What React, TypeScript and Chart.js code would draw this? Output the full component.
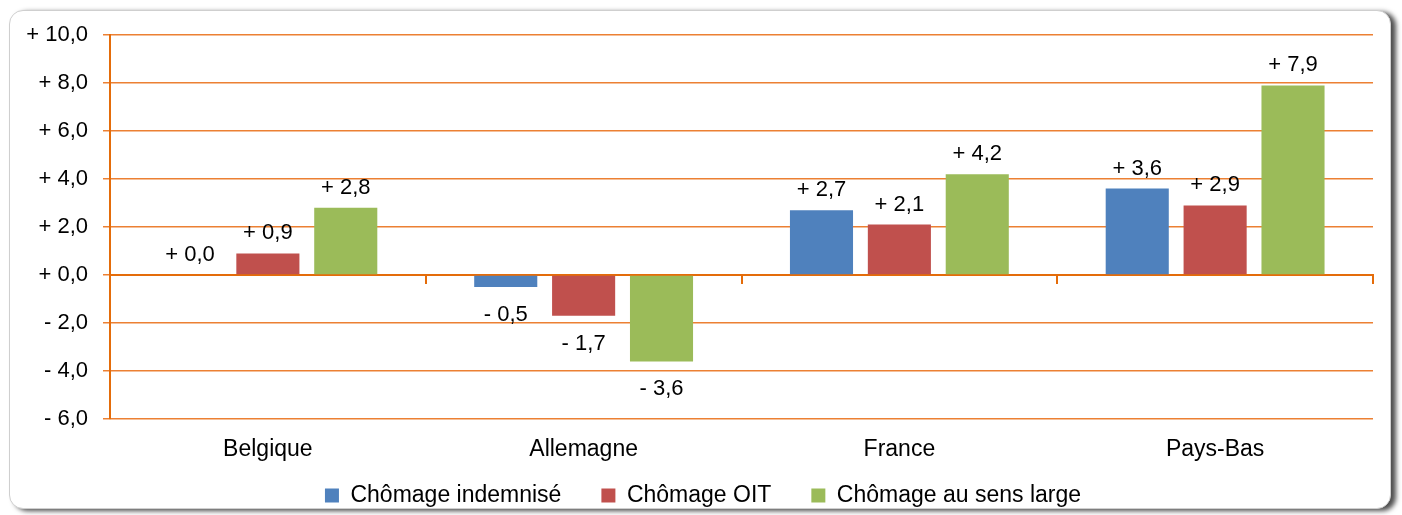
import React, { useEffect, useRef } from "react";
import { Chart, registerables } from "chart.js";

Chart.register(...registerables);

const categories = ["Belgique", "Allemagne", "France", "Pays-Bas"];
const seriesNames = ["Chômage indemnisé", "Chômage OIT", "Chômage au sens large"];
const indemnise = [0.0, -0.5, 2.7, 3.6];
const oit = [0.9, -1.7, 2.1, 2.9];
const sensLarge = [2.8, -3.6, 4.2, 7.9];
const seriesColors = ["#4F81BD", "#C0504D", "#9BBB59"];
const yMin = -6;
const yMax = 10;
const yStep = 2;

const FONT = "'Liberation Sans', Arial, sans-serif";
const ORANGE = "#E46C0A";
const GRID = "#EC8033";

function fmt(v: number): string {
  const s = Math.abs(v).toFixed(1).replace(".", ",");
  return (v < 0 ? "- " : "+ ") + s;
}

const valueLabels = {
  id: "valueLabels",
  afterDatasetsDraw(chart: any) {
    const ctx = chart.ctx;
    ctx.save();
    ctx.font = `22px ${FONT}`;
    ctx.fillStyle = "#000";
    ctx.textAlign = "center";
    ctx.textBaseline = "alphabetic";
    chart.data.datasets.forEach((ds: any, i: number) => {
      const meta = chart.getDatasetMeta(i);
      meta.data.forEach((bar: any, j: number) => {
        const v = ds.data[j];
        const y = v >= 0 ? bar.y - 14 : bar.y + 34;
        ctx.fillText(fmt(v), bar.x, y);
      });
    });
    ctx.restore();
  },
};

export default function App() {
  const ref = useRef<HTMLCanvasElement | null>(null);

  useEffect(() => {
    if (!ref.current) return;
    const chart = new Chart(ref.current, {
      type: "bar",
      data: {
        labels: categories,
        datasets: [indemnise, oit, sensLarge].map((d, i) => ({
          label: seriesNames[i],
          data: d,
          backgroundColor: seriesColors[i],
          borderWidth: 0,
          categoryPercentage: 0.74,
          barPercentage: 0.81,
          xAxisID: "x",
          yAxisID: "y",
        })),
      },
      options: {
        animation: false,
        responsive: false,
        maintainAspectRatio: false,
        layout: { padding: { left: 4, right: 0, top: 35, bottom: -2 } },
        plugins: {
          legend: {
            position: "bottom",
            labels: {
              font: { family: FONT, size: 23 },
              color: "#000",
              boxWidth: 14,
              boxHeight: 14,
              padding: 40,
            },
          },
          tooltip: { enabled: false },
        },
        scales: {
          x: {
            type: "category",
            position: { y: 0 } as any,
            offset: true,
            grid: {
              offset: true,
              drawOnChartArea: false,
              drawTicks: true,
              tickLength: 8,
              color: ORANGE,
              lineWidth: 2,
            },
            border: { display: true, color: ORANGE, width: 2 },
            ticks: { display: false },
          },
          xLabels: {
            type: "category",
            position: { y: yMin } as any,
            labels: categories,
            offset: true,
            grid: { display: false, drawTicks: false },
            border: { display: false },
            ticks: {
              font: { family: FONT, size: 23 },
              color: "#000",
              padding: 17,
              maxRotation: 0,
            },
          },
          spacer: {
            type: "linear",
            position: "bottom",
            min: 0,
            max: 1,
            grid: { display: false, drawTicks: false },
            border: { display: false },
            ticks: { display: false },
            afterFit: (s: any) => {
              s.height = 25;
            },
          },
          y: {
            type: "linear",
            min: yMin,
            max: yMax,
            ticks: {
              stepSize: yStep,
              font: { family: FONT, size: 22 },
              color: "#000",
              padding: 15,
              callback: (v: any) => fmt(Number(v)),
            },
            grid: {
              color: GRID,
              lineWidth: 1.5,
              drawTicks: true,
              tickLength: 7,
            },
            border: { display: true, color: ORANGE, width: 2 },
            afterFit: (s: any) => {
              s.width = 106;
            },
          },
          yRight: {
            type: "linear",
            position: "right",
            min: yMin,
            max: yMax,
            grid: { display: false, drawTicks: false },
            border: { display: false },
            ticks: { display: false },
            afterFit: (s: any) => {
              s.width = 29;
            },
          },
        },
      },
      plugins: [valueLabels],
    } as any);
    return () => chart.destroy();
  }, []);

  return (
    <div style={{ position: "relative", width: 1402, height: 515, background: "#fff" }}>
      <style>{"body{margin:0;background:#fff;}"}</style>
      <div
        style={{
          position: "absolute",
          left: 9,
          top: 10,
          width: 1380,
          height: 497,
          border: "1px solid #cfcfcf",
          borderRadius: 14,
          boxShadow: "5px 2px 5px rgba(0,0,0,0.7)",
          background: "#fff",
        }}
      />
      <canvas
        ref={ref}
        width={1402}
        height={515}
        style={{ position: "absolute", left: 0, top: 0, width: 1402, height: 515 }}
      />
    </div>
  );
}
